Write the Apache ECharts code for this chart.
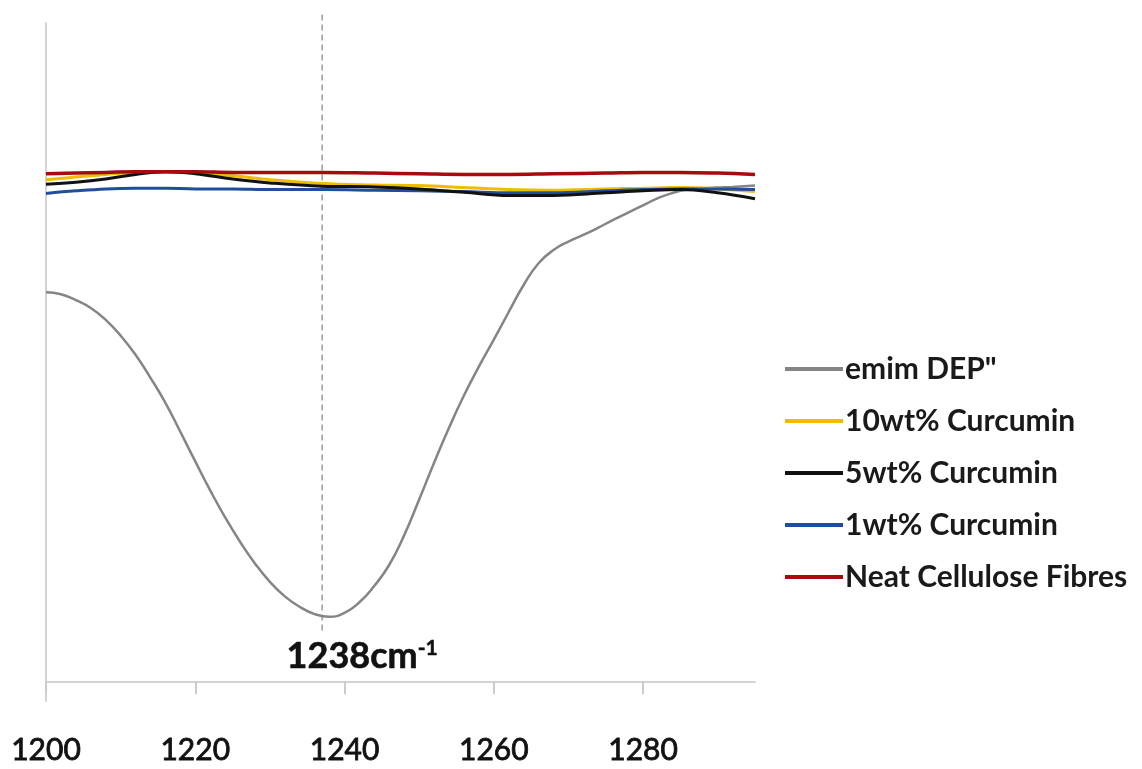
<!DOCTYPE html>
<html><head><meta charset="utf-8">
<script src="https://cdn.jsdelivr.net/npm/echarts@6/dist/echarts.min.js"></script>
<style>html,body{margin:0;padding:0;background:#fff}#c{width:1142px;height:769px}</style>
</head><body><div id="c"></div>
<script>
// wavenumbers (cm-1)
const wnGray = [1200,1202,1204,1206,1208,1210,1212,1214,1216,1218,1220,1222,1224,1226,1228,1230,1232,1234,1236,1238,1240,1242,1244,1246,1248,1250,1252,1254,1256,1258,1260,1262,1264,1266,1268,1270,1272,1274,1276,1278,1280,1282,1284,1286,1288,1290,1292,1295];
const emimDEP = [59.1,58.8,57.9,56.7,54.9,52.5,49.6,46.1,42.3,37.9,33.4,29.0,24.9,21.2,17.9,15.1,12.9,11.3,10.2,9.8,10.4,12.0,14.5,17.7,22.2,27.6,33.2,38.5,43.4,47.8,51.9,56.1,60.2,63.5,65.5,66.8,67.8,68.9,70.1,71.2,72.3,73.4,74.2,74.7,74.9,75.0,75.1,75.3];
const wnFlat = [1200,1204,1208,1212,1216,1220,1225,1230,1237,1244,1250,1256,1262,1268,1275,1280,1285,1290,1295];
const cur10 = [76.2,76.6,77.0,77.3,77.4,77.2,76.8,76.2,75.6,75.4,75.3,75.0,74.7,74.6,74.8,74.9,75.0,74.8,74.4];
const cur5  = [75.5,75.8,76.3,77.0,77.4,77.1,76.3,75.7,75.2,75.1,74.8,74.3,73.8,73.8,74.2,74.5,74.7,74.2,73.3];
const cur1  = [74.1,74.5,74.8,74.9,74.9,74.8,74.8,74.7,74.7,74.6,74.5,74.4,74.2,74.2,74.5,74.7,74.8,74.8,74.7];
const neat  = [77.1,77.2,77.3,77.4,77.4,77.4,77.3,77.3,77.3,77.2,77.1,77.0,77.0,77.1,77.2,77.3,77.3,77.2,77.0];
const xTicks = [1200,1220,1240,1260,1280];
const peakWn = 1237;
const seriesNames = ['emim DEP"','10wt% Curcumin','5wt% Curcumin','1wt% Curcumin','Neat Cellulose Fibres'];
const colors = ['#858585','#f0bc00','#111111','#1f4e9c','#a30d0d'];

const pair = (xs, ys) => xs.map((x,i)=>[x, ys[i]]);
const chart = echarts.init(document.getElementById('c'));
const lineS = (name, data, color, w, z, sm) => ({
  name, type:'line', data, smooth:sm, showSymbol:false, symbol:'none',
  lineStyle:{color, width:w}, itemStyle:{color}, z, emphasis:{disabled:true}
});
chart.setOption({
  animation:false,
  color: colors,
  grid:{left:46, right:387, top:23, bottom:68},
  xAxis:{type:'value', min:1200, max:1295, interval:20,
    axisLine:{lineStyle:{color:'#d4d4d4', width:2}},
    axisTick:{show:true, length:13, customValues:xTicks, lineStyle:{color:'#cccccc', width:2}},
    axisLabel:{customValues:xTicks, margin:34, color:'#111', fontFamily:'Lato', fontSize:30,
      textBorderColor:'#111', textBorderWidth:0.8, formatter:v=>String(v)},
    splitLine:{show:false}},
  yAxis:{type:'value', min:-3, max:100,
    axisLine:{show:true, lineStyle:{color:'#d4d4d4', width:2}},
    axisTick:{show:false}, axisLabel:{show:false}, splitLine:{show:false}},
  legend:{orient:'vertical', left:780, top:349, itemWidth:58, itemHeight:4, itemGap:22, icon:'rect',
    textStyle:{fontFamily:'Lato', fontWeight:'bold', fontSize:30, color:'#1a1a1a', lineHeight:30, padding:[0,0,0,-3]},
    data: seriesNames},
  series:[
    {type:'line', data:[[peakWn,101.3],[peakWn,7.5]], showSymbol:false, symbol:'none', clip:false,
      lineStyle:{color:'#9a9a9a', width:1.5, type:[6,4]}, silent:true, z:1, tooltip:{show:false}},
    lineS(seriesNames[0], pair(wnGray, emimDEP), colors[0], 2.5, 2, true),
    lineS(seriesNames[1], pair(wnFlat, cur10), colors[1], 3, 3, 0.4),
    lineS(seriesNames[3], pair(wnFlat, cur1), colors[3], 3, 3, 0.4),
    lineS(seriesNames[2], pair(wnFlat, cur5), colors[2], 3, 4, 0.4),
    lineS(seriesNames[4], pair(wnFlat, neat), colors[4], 3.5, 5, 0.4),
    {type:'scatter', data:[[peakWn, 3.8]], symbolSize:0, silent:true, z:10,
      itemStyle:{color:'#111', opacity:1},
      label:{show:true, position:'inside', offset:[40,0], formatter:'{a|1238cm}{s|-1}',
        color:'#111', textBorderWidth:0,
        rich:{a:{fontFamily:'Lato', fontWeight:'bold', fontSize:36, color:'#111', textBorderColor:'#111', textBorderWidth:0.6},
              s:{fontFamily:'Lato', fontWeight:'bold', fontSize:21, color:'#111', textBorderColor:'#111', textBorderWidth:0.5, verticalAlign:'top', padding:[0,0,16,0]}}}}
  ]
});
</script></body></html>
